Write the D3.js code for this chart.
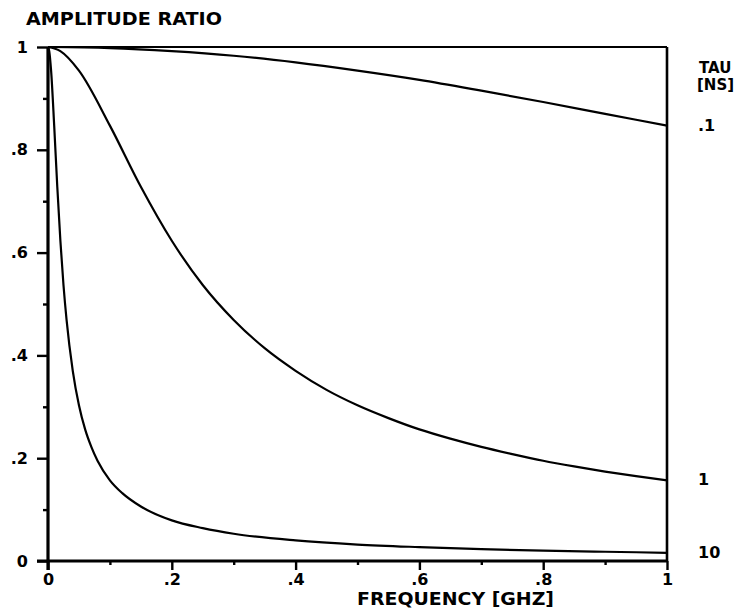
<!DOCTYPE html>
<html>
<head>
<meta charset="utf-8">
<script src="https://cdn.jsdelivr.net/npm/d3@7"></script>
<style>
  html, body { margin: 0; padding: 0; background: #fff; }
  svg { display: block; }
  text { font-family: "DejaVu Sans", sans-serif; font-weight: bold; fill: #000; }
</style>
</head>
<body>
<svg id="chart" width="746" height="608"></svg>
<script>
// ---- data ----
const freqTau10 = [0, 0.002, 0.005, 0.01, 0.015, 0.02, 0.025, 0.03, 0.04, 0.05, 0.06, 0.07, 0.08, 0.1, 0.12, 0.15, 0.2, 0.25, 0.3, 0.4, 0.5, 0.6, 0.7, 0.8, 0.9, 1.0];
const ampTau10  = [1, 0.992, 0.954, 0.847, 0.728, 0.623, 0.537, 0.469, 0.370, 0.303, 0.256, 0.222, 0.195, 0.157, 0.132, 0.106, 0.079, 0.064, 0.053, 0.040, 0.032, 0.027, 0.023, 0.020, 0.018, 0.016];
const freqTau1  = [0, 0.02, 0.05, 0.1, 0.15, 0.2, 0.25, 0.3, 0.35, 0.4, 0.45, 0.5, 0.55, 0.6, 0.65, 0.7, 0.75, 0.8, 0.85, 0.9, 0.95, 1.0];
const ampTau1   = [1, 0.992, 0.954, 0.847, 0.728, 0.623, 0.537, 0.469, 0.414, 0.370, 0.333, 0.303, 0.278, 0.256, 0.238, 0.222, 0.208, 0.195, 0.184, 0.174, 0.165, 0.157];
const freqTau01 = [0, 0.1, 0.2, 0.3, 0.4, 0.5, 0.6, 0.7, 0.8, 0.9, 1.0];
const ampTau01  = [1, 0.998, 0.992, 0.983, 0.970, 0.954, 0.936, 0.915, 0.893, 0.870, 0.847];
const tauLabels = [".1", "1", "10"];
const majorTicks = [0, 0.2, 0.4, 0.6, 0.8, 1];
const majorTickLabels = ["0", ".2", ".4", ".6", ".8", "1"];
const minorTicks = [0.1, 0.3, 0.5, 0.7, 0.9];
const yTitle = "AMPLITUDE RATIO";
const xTitle = "FREQUENCY [GHZ]";
const legendTitle = ["TAU", "[NS]"];

// ---- layout ----
const svg = d3.select("#chart");
const x = d3.scaleLinear().domain([0, 1]).range([48, 667]);
const y = d3.scaleLinear().domain([0, 1]).range([561, 47]);

const series = [
  { f: freqTau01, a: ampTau01, label: tauLabels[0] },
  { f: freqTau1,  a: ampTau1,  label: tauLabels[1] },
  { f: freqTau10, a: ampTau10, label: tauLabels[2] }
];

// frame: top and right
svg.append("line").attr("x1", x(0)).attr("x2", x(1)).attr("y1", y(1)).attr("y2", y(1))
  .attr("stroke", "#000").attr("stroke-width", 2.2);
svg.append("line").attr("x1", x(1)).attr("x2", x(1)).attr("y1", y(1)).attr("y2", y(0))
  .attr("stroke", "#000").attr("stroke-width", 2.6);

// y axis
const fmt = d => majorTickLabels[majorTicks.findIndex(v => Math.abs(v - d) < 1e-9)];
const yMajor = svg.append("g").attr("transform", `translate(${x(0)},0)`)
  .call(d3.axisLeft(y).tickValues(majorTicks).tickSize(11).tickPadding(9).tickFormat(fmt));
const yMinor = svg.append("g").attr("transform", `translate(${x(0)},0)`)
  .call(d3.axisLeft(y).tickValues(minorTicks).tickSize(5).tickFormat(""));
// x axis
const xMajor = svg.append("g").attr("transform", `translate(0,${y(0)})`)
  .call(d3.axisBottom(x).tickValues(majorTicks).tickSize(9).tickPadding(4).tickFormat(fmt));
const xMinor = svg.append("g").attr("transform", `translate(0,${y(0)})`)
  .call(d3.axisBottom(x).tickValues(minorTicks).tickSize(4).tickFormat(""));

[yMajor, yMinor, xMajor, xMinor].forEach(g => {
  g.select(".domain").attr("stroke", "#000").attr("stroke-width", 3.2);
  g.selectAll(".tick line").attr("stroke", "#000").attr("stroke-width", 2.4);
  g.selectAll(".tick text").attr("font-family", "DejaVu Sans, sans-serif")
    .attr("font-weight", "bold").attr("font-size", 16).attr("fill", "#000");
});
yMajor.select(".domain").attr("d", `M0,${y(1)}V${y(0) + 9}`);
yMinor.select(".domain").remove();
xMajor.select(".domain").attr("d", `M${x(0) - 11},0H${x(1)}`);
xMinor.select(".domain").remove();

// curves
const line = d3.line().x(d => x(d[0])).y(d => y(d[1])).curve(d3.curveMonotoneX);
series.forEach(s => {
  const pts = s.f.map((f, i) => [f, s.a[i]]);
  svg.append("path").datum(pts).attr("d", line)
    .attr("fill", "none").attr("stroke", "#000").attr("stroke-width", 2.2);
});

// titles
svg.append("text").attr("x", 26).attr("y", 25).attr("font-size", 17)
  .attr("textLength", 196).attr("lengthAdjust", "spacingAndGlyphs").text(yTitle);
svg.append("text").attr("x", 357).attr("y", 605).attr("font-size", 17)
  .attr("textLength", 197).attr("lengthAdjust", "spacingAndGlyphs").text(xTitle);

// legend
svg.append("text").attr("x", 699).attr("y", 73).attr("font-size", 15).text(legendTitle[0]);
svg.append("text").attr("x", 697).attr("y", 90).attr("font-size", 15).text(legendTitle[1]);
series.forEach(s => {
  const last = s.a[s.a.length - 1];
  svg.append("text").attr("x", 698).attr("y", y(last) + 5).attr("font-size", 16).text(s.label);
});
</script>
</body>
</html>
